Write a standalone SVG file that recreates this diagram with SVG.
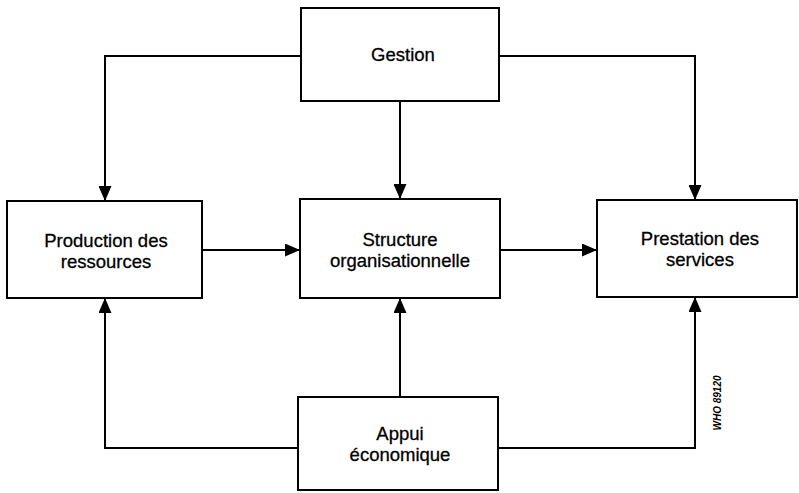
<svg xmlns="http://www.w3.org/2000/svg" width="799" height="493" viewBox="0 0 799 493">
<defs>
<marker id="ah" markerWidth="15" markerHeight="13" refX="15" refY="6.5" orient="auto" markerUnits="userSpaceOnUse">
<path d="M0,0 L15,6.5 L0,13 Z" fill="#000"/>
</marker>
</defs>
<style>
.box{fill:#fff;stroke:#000;stroke-width:2}
.lbl{font-family:"Liberation Sans",Arial,sans-serif;font-size:18.5px;text-anchor:middle;fill:#000;stroke:#000;stroke-width:0.3}
.con{fill:none;stroke:#000;stroke-width:2;marker-end:url(#ah)}
</style>
<rect width="799" height="493" fill="#fff"/>
<g id="connectors">
<path class="con" d="M301,56 H105 V201"/>
<path class="con" d="M499,56 H695 V200"/>
<path class="con" d="M400,101 V199"/>
<path class="con" d="M202,250 H300"/>
<path class="con" d="M500,250 H597"/>
<path class="con" d="M298,448 H105 V298"/>
<path class="con" d="M498,448 H695 V297"/>
<path class="con" d="M400,397 V298"/>
</g>
<g id="gestion">
<rect class="box" x="301" y="8" width="198" height="93"/>
<text class="lbl" x="403" y="61">Gestion</text>
</g>
<g id="production">
<rect class="box" x="7" y="201" width="195" height="97"/>
<text class="lbl" x="106" y="247">Production des</text>
<text class="lbl" x="106" y="268">ressources</text>
</g>
<g id="structure">
<rect class="box" x="300" y="199" width="200" height="99"/>
<text class="lbl" x="400" y="246">Structure</text>
<text class="lbl" x="400" y="267">organisationnelle</text>
</g>
<g id="prestation">
<rect class="box" x="597" y="200" width="200" height="97"/>
<text class="lbl" x="700" y="245">Prestation des</text>
<text class="lbl" x="700" y="266">services</text>
</g>
<g id="appui">
<rect class="box" x="298" y="397" width="200" height="93"/>
<text class="lbl" x="400" y="440">Appui</text>
<text class="lbl" x="400" y="461">économique</text>
</g>
<text x="721" y="403" transform="rotate(-90 721 403)" style="font-family:'Liberation Sans',Arial,sans-serif;font-size:10px;font-style:italic;font-weight:bold;text-anchor:middle">WHO 89120</text>
</svg>
